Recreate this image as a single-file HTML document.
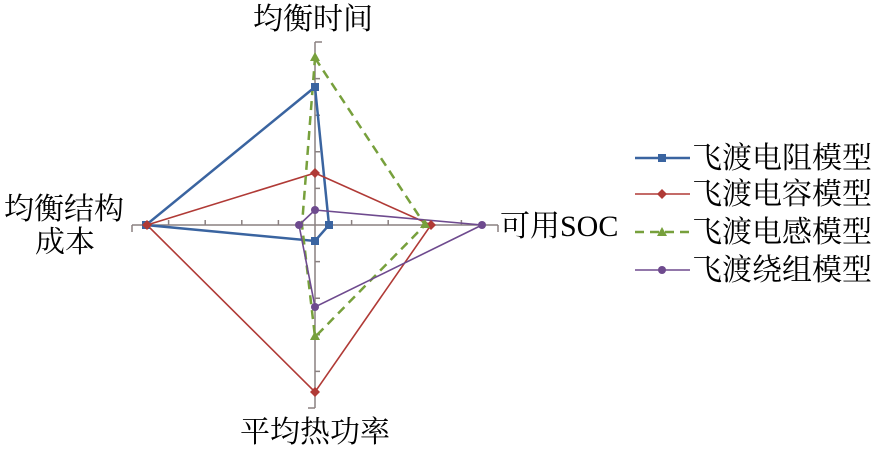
<!DOCTYPE html>
<html><head><meta charset="utf-8"><style>
html,body{margin:0;padding:0;background:#fff;width:883px;height:451px;overflow:hidden}
text{font-family:"Liberation Serif","Noto Serif CJK SC","Noto Sans CJK SC",serif;font-size:30px;fill:#000}
</style></head><body>
<svg width="883" height="451" viewBox="0 0 883 451" xmlns="http://www.w3.org/2000/svg">
<g stroke="#8a8080" stroke-width="1.5" fill="none">
<line x1="315" y1="42" x2="315" y2="408"/>
<line x1="132" y1="225" x2="498" y2="225"/>
<line x1="315" y1="42" x2="322" y2="42"/>
<line x1="315" y1="408" x2="308" y2="408"/>
<line x1="132" y1="225" x2="132" y2="232"/>
<line x1="498" y1="225" x2="498" y2="232"/>
<path d="M315 78.6h5M315 115.2h5M315 151.8h5M315 188.4h5M315 261.6h5M315 298.2h5M315 334.8h5M315 371.4h5"/>
<path d="M168.6 225v-5M205.2 225v-5M241.8 225v-5M278.4 225v-5M351.6 225v-5M388.2 225v-5M424.8 225v-5M461.4 225v-5"/>
</g>
<polygon points="315,87 329,225 315,241 146,225" fill="none" stroke="#3a64a0" stroke-width="2.5"/>
<polygon points="315,173 431,225 315,392 147,225" fill="none" stroke="#b03a36" stroke-width="1.6"/>
<polygon points="315,58 425,225 315,337 302,225" fill="none" stroke="#77a03c" stroke-width="2.5" stroke-dasharray="9,6"/>
<polygon points="315,210 482,225 315,307 299,225" fill="none" stroke="#6e4a8e" stroke-width="1.6"/>
<g fill="#3a64a0"><rect x="311" y="83" width="8" height="8"/><rect x="325" y="221" width="8" height="8"/><rect x="311" y="237" width="8" height="8"/><rect x="142" y="221" width="8" height="8"/></g>
<g fill="#b03a36"><path d="M315 168l5 5-5 5-5-5z"/><path d="M431 220l5 5-5 5-5-5z"/><path d="M315 387l5 5-5 5-5-5z"/><path d="M147 220l5 5-5 5-5-5z"/></g>
<g fill="#77a03c"><path d="M315 52l5 9h-10z"/><path d="M425 219l5 9h-10z"/><path d="M315 331l5 9h-10z"/></g>
<g fill="#6e4a8e"><circle cx="315" cy="210" r="4"/><circle cx="482" cy="225" r="4"/><circle cx="315" cy="307" r="4"/><circle cx="299" cy="225" r="4"/></g>
<text x="313" y="29" text-anchor="middle">均衡时间</text>
<text x="4" y="219">均衡结构</text>
<text x="35" y="252">成本</text>
<text x="500" y="236">可用SOC</text>
<text x="315" y="442" text-anchor="middle">平均热功率</text>
<g>
<line x1="635" y1="158" x2="690" y2="158" stroke="#3a64a0" stroke-width="2.5"/><rect x="658" y="154" width="8" height="8" fill="#3a64a0"/>
<text x="692" y="168">飞渡电阻模型</text>
<line x1="635" y1="194" x2="690" y2="194" stroke="#b03a36" stroke-width="1.6"/><path d="M662 189l5 5-5 5-5-5z" fill="#b03a36"/>
<text x="692" y="204">飞渡电容模型</text>
<line x1="635" y1="232" x2="690" y2="232" stroke="#77a03c" stroke-width="2.5" stroke-dasharray="9,6"/><path d="M662 227l5 9h-10z" fill="#77a03c"/>
<text x="692" y="242">飞渡电感模型</text>
<line x1="635" y1="270" x2="690" y2="270" stroke="#6e4a8e" stroke-width="1.6"/><circle cx="662" cy="270" r="4" fill="#6e4a8e"/>
<text x="692" y="280">飞渡绕组模型</text>
</g>
</svg>
</body></html>
